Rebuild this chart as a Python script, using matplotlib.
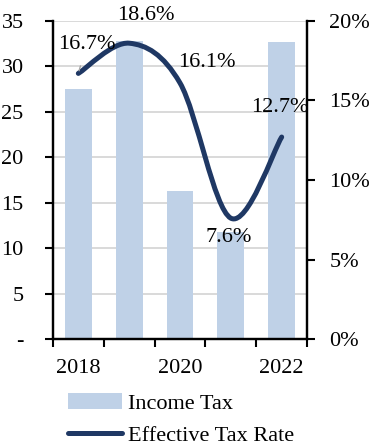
import matplotlib
matplotlib.use("Agg")
import matplotlib.pyplot as plt
from matplotlib.path import Path
from matplotlib.patches import PathPatch
from matplotlib.lines import Line2D
from matplotlib.patches import Patch
from matplotlib.ticker import FuncFormatter, MultipleLocator

years = [2018, 2019, 2020, 2021, 2022]
income_tax = [27.5, 32.8, 16.3, 11.8, 32.7]
effective_rate = [0.167, 0.186, 0.161, 0.076, 0.127]
rate_labels = ["16.7%", "18.6%", "16.1%", "7.6%", "12.7%"]
year_labels = ["2018", "", "2020", "", "2022"]

BAR_COLOR = "#bfd1e7"
LINE_COLOR = "#1f3864"
FONT = ["Liberation Serif", "DejaVu Serif"]
FS = 16

plt.rcParams["font.family"] = FONT

fig = plt.figure(figsize=(3.7, 4.45), dpi=100)
ax = fig.add_axes([0.143, 0.238, 0.687, 0.715])
ax2 = ax.twinx()

x = list(range(len(years)))
ax.bar(x, income_tax, width=0.53, color=BAR_COLOR, zorder=2)
ax.set_xlim(-0.5, len(years) - 0.5)
ax.set_ylim(0, 35)
ax.yaxis.set_major_locator(MultipleLocator(5))
ax.yaxis.set_major_formatter(FuncFormatter(lambda v, p: "-" if v == 0 else f"{v:.0f}"))
ax.grid(axis="y", color="#d9d9d9", linewidth=1.4, zorder=0)
ax.set_axisbelow(True)

ax.set_xticks(x)
ax.set_xticklabels(year_labels)
ax.set_xticks([i - 0.5 for i in range(len(years) + 1)], minor=True)
ax.tick_params(axis="x", which="major", length=0, labelsize=FS, pad=14)
ax.tick_params(axis="x", which="minor", length=6, width=1.5, direction="out")
ax.tick_params(axis="y", length=6, width=1.5, direction="out", labelsize=FS, pad=15)

for a in (ax, ax2):
    a.spines["top"].set_visible(False)
    for s in ("left", "right", "bottom"):
        a.spines[s].set_linewidth(1.6)
        a.spines[s].set_color("black")

ax2.set_ylim(0, 0.20)
ax2.yaxis.set_major_locator(MultipleLocator(0.05))
ax2.yaxis.set_major_formatter(FuncFormatter(lambda v, p: f"{v * 100:.0f}%"))
ax2.tick_params(axis="y", length=6, width=1.5, direction="out", labelsize=FS, pad=10)

# Smoothed line: cubic Bezier segments through each yearly rate
pts = list(zip(x, effective_rate))
verts = [pts[0]]
codes = [Path.MOVETO]
n = len(pts)
for i in range(n - 1):
    p0 = pts[max(i - 1, 0)]
    p1 = pts[i]
    p2 = pts[i + 1]
    p3 = pts[min(i + 2, n - 1)]
    c1 = (p1[0] + (p2[0] - p0[0]) / 6, p1[1] + (p2[1] - p0[1]) / 6)
    c2 = (p2[0] - (p3[0] - p1[0]) / 6, p2[1] - (p3[1] - p1[1]) / 6)
    verts += [c1, c2, p2]
    codes += [Path.CURVE4] * 3
ax2.add_patch(PathPatch(Path(verts, codes), facecolor="none", edgecolor=LINE_COLOR,
                        linewidth=3.6, capstyle="round", joinstyle="round", zorder=3))

offsets = [(6, 21), (12, 20), (19, 15), (-1.5, -14), (-1, 21)]
for xi, yi, lab, off in zip(x, effective_rate, rate_labels, offsets):
    kw = {}
    if xi == 0:
        kw["arrowprops"] = dict(arrowstyle="-", color="#a6a6a6", lw=1,
                                shrinkA=7, shrinkB=2)
    ax2.annotate(lab, (xi, yi), xytext=off, textcoords="offset points",
                 ha="center", va="center", fontsize=FS, color="black", **kw)

handles = [Patch(facecolor=BAR_COLOR, edgecolor="none"),
           Line2D([0], [0], color=LINE_COLOR, linewidth=3.6, solid_capstyle="round")]
fig.legend(handles, ["Income Tax", "Effective Tax Rate"], loc="upper left",
           bbox_to_anchor=(0.185, 0.116), frameon=False, fontsize=FS,
           handlelength=2.4, handletextpad=0.3, labelspacing=0.5,
           borderaxespad=0, borderpad=0)

fig.savefig("out.png", dpi=100)
